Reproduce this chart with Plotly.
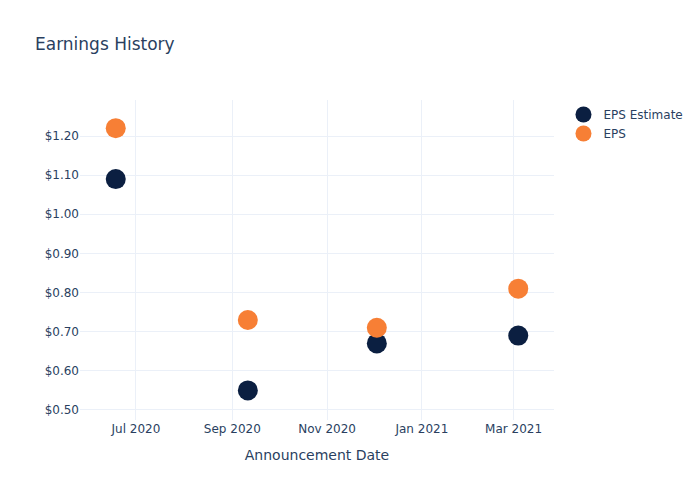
import plotly.graph_objects as go

dates = ["2020-06-18", "2020-09-11", "2020-12-03", "2021-03-04"]
eps_estimate = [1.09, 0.55, 0.67, 0.69]
eps_actual = [1.22, 0.73, 0.71, 0.81]

fig = go.Figure()
fig.add_trace(go.Scatter(x=dates, y=eps_estimate, mode="markers", name="EPS Estimate",
                         marker=dict(color="#0b1f41", size=20)))
fig.add_trace(go.Scatter(x=dates, y=eps_actual, mode="markers", name="EPS",
                         marker=dict(color="#f77f35", size=20)))
fig.update_layout(
    template="plotly_white",
    width=700, height=500,
    font=dict(family="DejaVu Sans"),
    title="Earnings History",
    xaxis=dict(title="Announcement Date", range=["2020-05-26", "2021-03-27"]),
    yaxis=dict(tickprefix="$", tickformat=".2f", range=[0.4744, 1.292]),
)
fig.write_html("out.html")
